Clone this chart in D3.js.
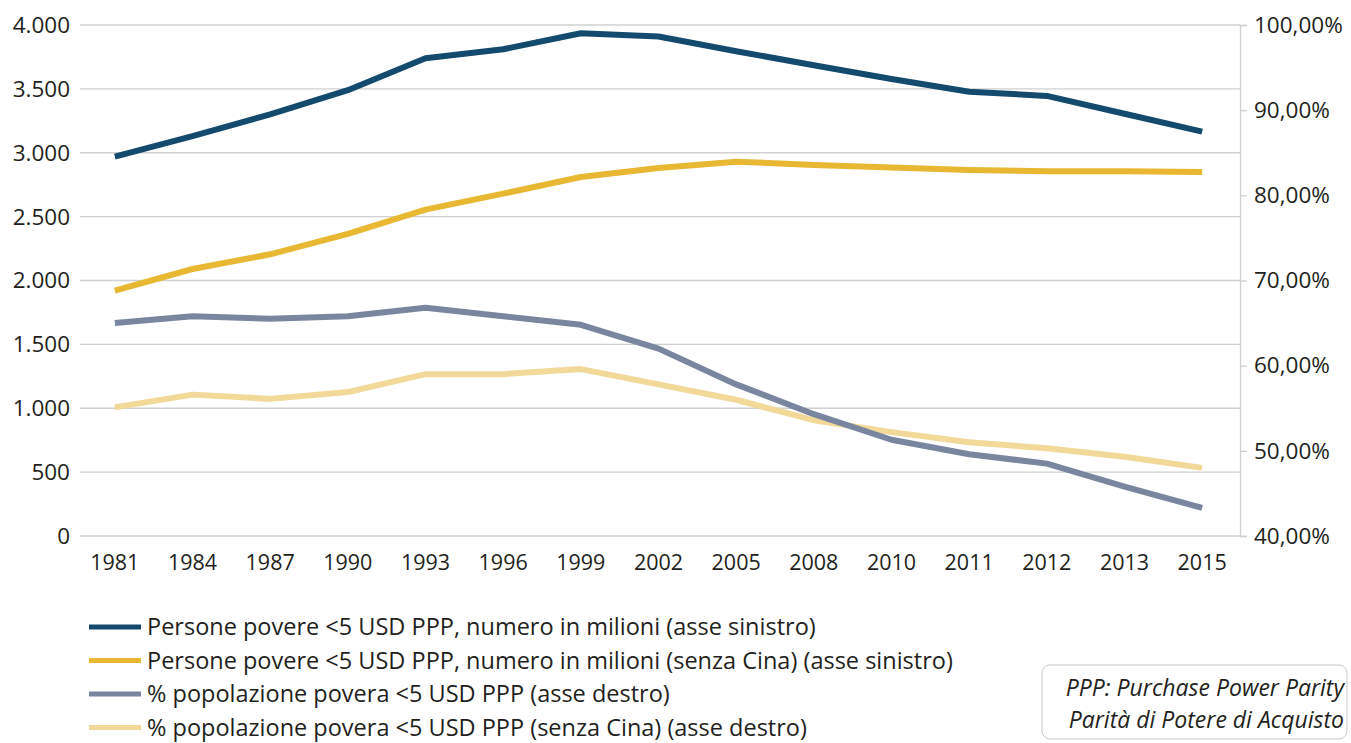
<!DOCTYPE html>
<html>
<head>
<meta charset="utf-8">
<script src="https://cdn.jsdelivr.net/npm/d3@7"></script>
<style>
  body { margin: 0; background: #fff; }
  svg text { font-family: "Open Sans", "Noto Sans", sans-serif; fill: #231f20; }
</style>
</head>
<body>
<svg id="chart" width="1351" height="743"></svg>
<script>
var years = ['1981', '1984', '1987', '1990', '1993', '1996', '1999', '2002', '2005', '2008', '2010', '2011', '2012', '2013', '2015'];

// milioni di persone (asse sinistro)
var poveri = [2970, 3130, 3300, 3490, 3740, 3810, 3935, 3910, 3795, 3685, 3577, 3478, 3445, 3305, 3165];
var poveriNoCina = [1920, 2090, 2205, 2365, 2555, 2680, 2810, 2880, 2930, 2905, 2885, 2865, 2855, 2855, 2850];

// % popolazione (asse destro)
var percPoveri = [65.0, 65.8, 65.5, 65.8, 66.8, 65.8, 64.8, 62.0, 57.8, 54.3, 51.3, 49.6, 48.5, 45.8, 43.3];
var percPoveriNoCina = [55.1, 56.6, 56.1, 56.9, 59.0, 59.0, 59.6, 57.8, 56.0, 53.6, 52.2, 51.0, 50.3, 49.3, 48.0];

var leftTicks = [0, 500, 1000, 1500, 2000, 2500, 3000, 3500, 4000];
var rightTicks = [40, 50, 60, 70, 80, 90, 100];

var series = [
  {name: 'Persone povere <5 USD PPP, numero in milioni (asse sinistro)', values: poveri, axis: 'left', color: '#134a6e'},
  {name: 'Persone povere <5 USD PPP, numero in milioni (senza Cina) (asse sinistro)', values: poveriNoCina, axis: 'left', color: '#e8b833'},
  {name: '% popolazione povera <5 USD PPP (asse destro)', values: percPoveri, axis: 'right', color: '#7a86a0'},
  {name: '% popolazione povera <5 USD PPP (senza Cina) (asse destro)', values: percPoveriNoCina, axis: 'right', color: '#f2d99a'}
];

var plot = {left: 80, right: 1240, top: 25, bottom: 536};
var svg = d3.select('#chart');

var x = d3.scalePoint().domain(years).range([76, 1241]).padding(0.5);
var yL = d3.scaleLinear().domain([0, 4000]).range([plot.bottom, plot.top]);
var yR = d3.scaleLinear().domain([40, 100]).range([plot.bottom, plot.top]);

// gridlines
svg.append('g').selectAll('line').data(leftTicks)
  .enter().append('line')
  .attr('x1', plot.left).attr('x2', plot.right)
  .attr('y1', function(d) { return yL(d); })
  .attr('y2', function(d) { return yL(d); })
  .style('stroke', '#d0d0d0').style('stroke-width', '1.3px');

// left axis labels
var fmtL = d3.formatLocale({decimal: ',', thousands: '.', grouping: [3], currency: ['', '€']}).format(',');
svg.append('g').selectAll('text').data(leftTicks)
  .enter().append('text')
  .attr('x', 70)
  .attr('y', function(d) { return yL(d); })
  .attr('dy', '0.35em')
  .attr('text-anchor', 'end')
  .style('font-size', '22.5px')
  .text(function(d) { return fmtL(d); });

// right axis
var gR = svg.append('g').attr('transform', 'translate(' + plot.right + ',0)');
gR.call(d3.axisRight(yR).tickValues(rightTicks).tickSize(7).tickPadding(7)
  .tickFormat(function(d) { return d3.format('.2f')(d).replace('.', ',') + '%'; }));
gR.select('.domain').style('stroke', '#d0d0d0').style('stroke-width', '1.3px');
gR.selectAll('.tick line').style('stroke', '#d0d0d0').style('stroke-width', '1.3px');
gR.selectAll('.tick text').style('font-size', '22.5px').style('fill', '#231f20')
  .style('font-family', '"Open Sans", "Noto Sans", sans-serif');

// x labels
svg.append('g').selectAll('text').data(years)
  .enter().append('text')
  .attr('x', function(d) { return x(d); })
  .attr('y', 562)
  .attr('dy', '0.35em')
  .attr('text-anchor', 'middle')
  .style('font-size', '21.5px')
  .text(function(d) { return d; });

// lines, back to front
var order = [3, 2, 1, 0];
order.forEach(function(k) {
  var s = series[k],
      y = s.axis === 'left' ? yL : yR,
      line = d3.line()
        .x(function(d, i) { return x(years[i]); })
        .y(function(d) { return y(d); });
  svg.append('path')
    .datum(s.values)
    .attr('d', line)
    .style('fill', 'none')
    .style('stroke', s.color)
    .style('stroke-width', '6px')
    .style('stroke-linejoin', 'round');
});

// legend
var leg = svg.append('g').selectAll('g').data(series)
  .enter().append('g')
  .attr('transform', function(d, i) { return 'translate(89,' + (627 + i * 33.5) + ')'; });
leg.append('line')
  .attr('x1', 0).attr('x2', 52)
  .style('stroke', function(d) { return d.color; })
  .style('stroke-width', '5px');
leg.append('text')
  .attr('x', 58)
  .attr('dy', '0.35em')
  .style('font-size', '23.5px')
  .text(function(d) { return d.name; });

// note box
svg.append('rect')
  .attr('x', 1042).attr('y', 665)
  .attr('width', 305).attr('height', 74)
  .attr('rx', 8)
  .style('fill', '#fff')
  .style('stroke', '#c8c8c8')
  .style('stroke-width', '1px');
svg.append('g').selectAll('text').data(['PPP: Purchase Power Parity', 'Parità di Potere di Acquisto'])
  .enter().append('text')
  .attr('x', 1344)
  .attr('y', function(d, i) { return 688 + i * 32; })
  .attr('dy', '0.35em')
  .attr('text-anchor', 'end')
  .style('font-size', '23px')
  .style('font-style', 'italic')
  .text(function(d) { return d; });
</script>
</body>
</html>
